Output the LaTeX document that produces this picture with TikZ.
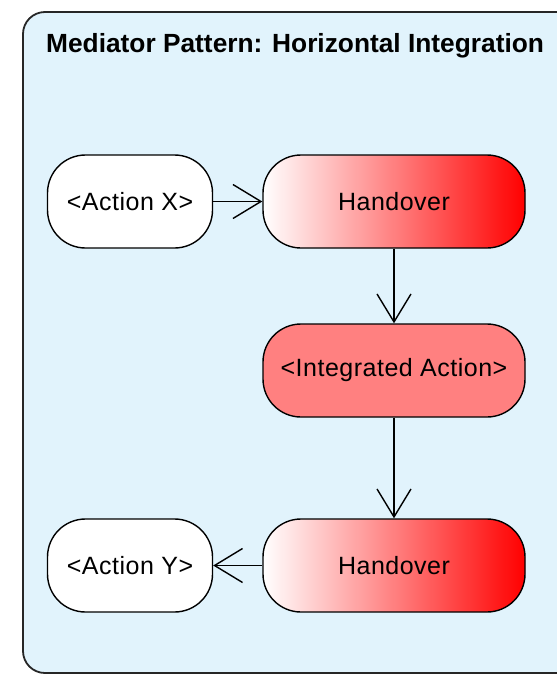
\documentclass[tikz,border=0pt]{standalone}
\usepackage{fontspec}
\setmainfont{Liberation Sans}
\usetikzlibrary{arrows.meta}
\definecolor{panelblue}{HTML}{E1F3FC}
\definecolor{intred}{HTML}{FF8080}
\tikzset{>={Straight Barb[length=28pt,width=34pt,line width=1.4pt]}}
\tikzset{act/.style={rectangle,rounded corners=38pt,draw=black,line width=1.4pt,minimum width=165pt,minimum height=93pt,inner sep=0pt,font=\fontsize{25}{28}\selectfont\addfontfeature{LetterSpace=2}}}
\tikzset{hand/.style={act,minimum width=262pt,left color=white,right color=red}}

\begin{document}
\begin{tikzpicture}[x=1pt,y=-1pt]
\useasboundingbox (0,0) rectangle (557,675);
\draw[fill=panelblue,draw=black!85,line width=1.8pt,rounded corners=22pt] (23,12) rectangle (620,673);
\node[anchor=base west,inner sep=0pt,font=\fontsize{26.3}{28}\selectfont\bfseries] (title) at (46,52) {Mediator Pattern: Horizontal Integration};
\node[act,fill=white] (actx) at (130,201.5) {<Action X>};
\node[hand] (hand1) at (394,201.5) {Handover};
\node[act,fill=intred,minimum width=262pt] (integ) at (394,370.5) {<Integrated Action>};
\node[hand] (hand2) at (394,565.5) {Handover};
\node[act,fill=white] (acty) at (130,565.5) {<Action Y>};
\path [draw,->,line width=1.4pt] (actx) edge (hand1);
\path [draw,->,line width=1.4pt] (hand1) edge (integ);
\path [draw,->,line width=1.4pt] (integ) edge (hand2);
\path [draw,->,line width=1.4pt] (hand2) edge (acty);
\end{tikzpicture}
\end{document}
